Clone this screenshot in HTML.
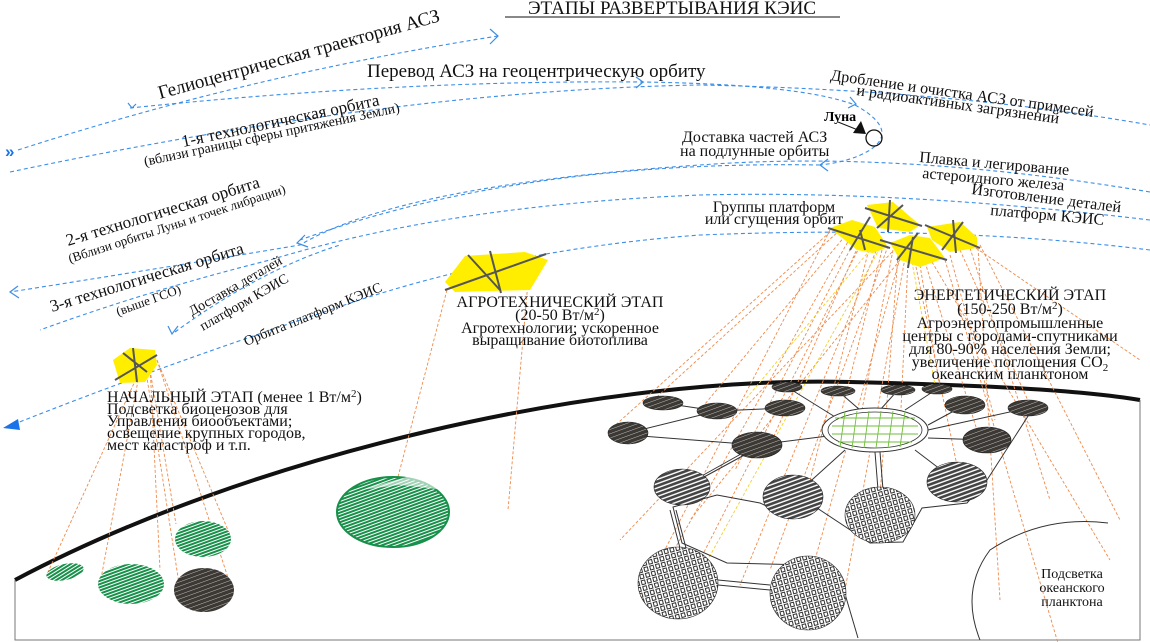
<!DOCTYPE html>
<html><head><meta charset="utf-8"><style>
html,body{margin:0;padding:0;background:#fff;}
svg{display:block;font-family:"Liberation Serif","DejaVu Serif",serif;}
</style></head><body>
<svg width="1150" height="642" viewBox="0 0 1150 642" xmlns="http://www.w3.org/2000/svg">
<defs>
<pattern id="dk" width="4" height="4" patternUnits="userSpaceOnUse" patternTransform="rotate(70)">
<rect width="4" height="4" fill="#3c3833"/><line x1="0" y1="0" x2="0" y2="4" stroke="#bdbdbd" stroke-width="1"/></pattern>
<pattern id="lt" width="4" height="4" patternUnits="userSpaceOnUse" patternTransform="rotate(70)">
<rect width="4" height="4" fill="#fff"/><rect x="0" y="0" width="2.6" height="4" fill="#444"/></pattern>
<pattern id="sq" width="6" height="6" patternUnits="userSpaceOnUse" patternTransform="rotate(-15)">
<rect width="6" height="6" fill="#fff"/><rect x="1" y="1" width="3.5" height="4" fill="none" stroke="#333" stroke-width="1"/></pattern>
<pattern id="gr" width="3" height="3" patternUnits="userSpaceOnUse" patternTransform="rotate(-20)">
<rect width="3" height="3" fill="#fff"/><rect width="3" height="2" fill="#17904a"/></pattern>
</defs>

<!-- title -->
<text x="672" y="14" font-size="19" text-anchor="middle" fill="#111">ЭТАПЫ  РАЗВЕРТЫВАНИЯ  КЭИС</text>
<line x1="505" y1="17" x2="840" y2="17" stroke="#111" stroke-width="1"/>

<!-- orbits -->
<g fill="none" stroke="#3b8ee8" stroke-width="1.1" stroke-dasharray="4,3">
<path d="M18,150 Q250,75 498,36"/>
<path d="M130,108 Q400,80 640,82 Q800,84 855,105 Q900,130 870,150 Q850,162 820,165"/>
<path d="M820,165 Q520,160 300,240"/>
<path d="M10,172 Q400,90 700,85 Q950,90 1150,125"/>
<path d="M1150,192 Q900,150 700,165 Q400,185 300,245 Q150,270 10,292"/>
<path d="M1150,220 Q900,190 700,195 Q450,205 270,260 Q150,290 40,330"/>
<path d="M1150,250 Q950,225 700,235 Q500,250 330,310 Q150,370 12,425"/>
<path d="M175,332 Q260,270 340,245"/>
</g>
<g fill="none" stroke="#3b8ee8" stroke-width="1.2">
<path d="M490,29 L498,36 L490,44"/>
<path d="M636,77 L643,82 L636,88"/>
<path d="M850,97 L856,104 L848,108"/>
<path d="M828,159 L820,165 L828,171"/>
<path d="M305,235 L297,243 L308,247"/>
<path d="M18,286 L10,292 L19,298"/>
<path d="M168,326 L172,334 L178,326"/>
<path d="M128,103 L132,108 L136,104"/>
</g>
<polygon points="3,428 18,419 20,430" fill="#1a73e8"/>
<text x="5" y="157" font-size="17" font-weight="bold" fill="#1a73e8" font-family="Liberation Sans,sans-serif">»</text>

<!-- Moon -->
<circle cx="874" cy="138" r="8" fill="none" stroke="#111" stroke-width="1.3"/>
<polygon points="853,133 861,121 866,134" fill="#111"/>
<text x="824" y="121" font-size="14" font-weight="bold">Луна</text>
<line x1="838" y1="122" x2="858" y2="130" stroke="#111"/>

<!-- texts orbits -->
<g fill="#111">
<text font-size="19" transform="translate(160,99) rotate(-15.5)">Гелиоцентрическая траектория АСЗ</text>
<text x="367" y="77" font-size="19">Перевод АСЗ на геоцентрическую орбиту</text>
<text font-size="17" transform="translate(183,147) rotate(-12)">1-я технологическая орбита</text>
<text font-size="14" transform="translate(145,166) rotate(-12)">(вблизи границы сферы притяжения Земли)</text>
<text font-size="17" transform="translate(68,246) rotate(-17)">2-я технологическая орбита</text>
<text font-size="13" transform="translate(70,263) rotate(-18)">(Вблизи орбиты Луны и точек либрации)</text>
<text font-size="17" transform="translate(52,312) rotate(-17)">3-я технологическая орбита</text>
<text font-size="13" transform="translate(118,316) rotate(-20)">(выше ГСО)</text>
<text font-size="14" transform="translate(192,316) rotate(-30)">Доставка деталей</text>
<text font-size="14" transform="translate(203,331) rotate(-30)">платформ КЭИС</text>
<text font-size="14" transform="translate(246,346) rotate(-22)">Орбита платформ КЭИС</text>
<text font-size="16" transform="translate(830,80) rotate(8)">Дробление и очистка АСЗ от примесей</text>
<text font-size="16" transform="translate(856,95) rotate(8)">и радиоактивных загрязнений</text>
<text x="682" y="142" font-size="16">Доставка частей АСЗ</text>
<text x="680" y="156" font-size="16">на подлунные орбиты</text>
<text font-size="16" transform="translate(919,162) rotate(5)">Плавка и легирование</text>
<text font-size="16" transform="translate(922,178) rotate(5)">астероидного железа</text>
<text font-size="16" transform="translate(971,194) rotate(7)">Изготовление деталей</text>
<text font-size="16" transform="translate(990,215) rotate(5)">платформ КЭИС</text>
<text x="774" y="212" font-size="16" text-anchor="middle">Группы платформ</text>
<text x="774" y="224" font-size="16" text-anchor="middle">или сгущения орбит</text>
</g>

<!-- Earth -->
<path d="M15,580 C250,455 600,375 850,382 C980,385 1080,390 1140,400" fill="none" stroke="#111" stroke-width="4"/>
<path d="M15,580 L15,640 L1140,640 L1140,400" fill="none" stroke="#777" stroke-width="1"/>

<!-- beams -->
<g stroke="#ef8a4a" stroke-width="0.9" stroke-dasharray="3,2" fill="none">
<path d="M140,370 L48,572 M140,370 L100,584 M150,365 L160,570 M145,365 L180,590 M157,360 L230,535 M157,360 L232,590 M150,370 L176,524"/>
<path d="M447,290 L388,515 M528,282 L508,510"/>
<path d="M830,230 L640,598 M830,232 L610,430 M840,230 L648,405 M845,236 L700,410 M850,238 L660,575 M855,240 L735,470 M860,242 L770,445 M862,242 L700,560 M870,245 L805,500 M878,246 L740,585 M882,250 L842,410 M888,246 L770,570 M893,250 L860,420 M898,255 L880,495 M900,258 L807,588 M905,258 L845,590 M908,260 L900,430 M915,262 L960,480 M920,265 L940,388 M925,262 L980,440 M932,262 L1110,560 M945,260 L1060,650 M950,255 L995,420 M960,250 L1030,405 M970,248 L1050,500 M976,248 L1140,360 M980,245 L1120,520 M978,248 L1000,600 M900,260 L690,520 M892,252 L620,540"/>
</g>
<g stroke="#f5d020" stroke-width="0.9" stroke-dasharray="3,2"><path d="M870,250 L745,400 M912,262 L935,385 M880,248 L680,610"/></g>

<!-- platforms -->
<g fill="#ffee00">
<polygon points="113,360 130,348 155,350 157,365 145,382 120,383"/>
<polygon points="445,282 465,256 525,252 548,260 530,290 455,292"/>
<polygon points="830,228 852,220 875,227 888,247 873,253 857,250"/>
<polygon points="867,205 893,202 920,225 910,232 878,228"/>
<polygon points="890,243 910,235 930,238 945,258 920,267 900,260"/>
<polygon points="927,227 960,222 977,237 977,248 950,252 932,240"/>
</g>
<g stroke="#555" stroke-width="2" fill="none">
<path d="M115,380 L157,355 M123,353 L147,372 M133,348 L137,382"/>
<path d="M445,290 L546,254 M468,255 L500,290 M490,251 L501,293"/>
<path d="M828,228 L890,248 M850,250 L870,217 M860,230 L865,250"/>
<path d="M865,208 L922,226 M877,228 L903,205 M890,200 L888,232"/>
<path d="M880,240 L947,260 M897,260 L918,233 M913,237 L908,268"/>
<path d="M925,225 L980,248 M942,250 L963,222 M953,220 L956,253"/>
</g>

<!-- stage texts -->
<g fill="#111" font-size="16">
<text x="107" y="402">НАЧАЛЬНЫЙ ЭТАП (менее 1 Вт/м<tspan font-size="11" dy="-5">2</tspan><tspan dy="5">)</tspan></text>
<text x="107" y="414">Подсветка биоценозов для</text>
<text x="107" y="426">Управления биообъектами;</text>
<text x="107" y="438">освещение крупных городов,</text>
<text x="107" y="450">мест катастроф и т.п.</text>
<text x="560" y="307" text-anchor="middle">АГРОТЕХНИЧЕСКИЙ ЭТАП</text>
<text x="560" y="320" text-anchor="middle">(20-50 Вт/м<tspan font-size="11" dy="-5">2</tspan><tspan dy="5">)</tspan></text>
<text x="560" y="333" text-anchor="middle">Агротехнологии; ускоренное</text>
<text x="560" y="345" text-anchor="middle">выращивание биотоплива</text>
<text x="1010" y="300" text-anchor="middle">ЭНЕРГЕТИЧЕСКИЙ ЭТАП</text>
<text x="1010" y="314" text-anchor="middle">(150-250 Вт/м<tspan font-size="11" dy="-5">2</tspan><tspan dy="5">)</tspan></text>
<text x="1010" y="328" text-anchor="middle">Агроэнергопромышленные</text>
<text x="1010" y="341" text-anchor="middle">центры с городами-спутниками</text>
<text x="1010" y="354" text-anchor="middle">для 80-90% населения Земли;</text>
<text x="1010" y="367" text-anchor="middle">увеличение поглощения СО<tspan font-size="11" dy="4">2</tspan></text>
<text x="1010" y="379" text-anchor="middle">океанским планктоном</text>
</g>

<!-- left fields -->
<ellipse cx="65" cy="572" rx="19" ry="8" fill="url(#gr)" transform="rotate(-12 65 572)"/>
<ellipse cx="131" cy="584" rx="33" ry="20" fill="url(#gr)"/>
<ellipse cx="203" cy="539" rx="28" ry="18" fill="url(#gr)"/>
<ellipse cx="204" cy="590" rx="30" ry="22" fill="url(#dk)"/>
<ellipse cx="393" cy="512" rx="56" ry="35" fill="url(#gr)" stroke="#17904a" stroke-width="2"/>
<path d="M360,490 L410,476 L445,490 L400,485 Z" fill="#fff" opacity="0.6"/>

<!-- energy ground: connections -->
<g stroke="#333" stroke-width="1" fill="none">
<path d="M663,403 L717,411 L785,408 M628,433 L717,411 M628,435 L757,445 L875,430 M682,487 L757,445 M682,489 L759,447"/>
<path d="M787,387 L840,420 M838,391 L860,410 M898,390 L880,410 M937,389 L905,410 M965,405 L928,425 M1028,408 L928,430 M987,440 L928,438 M957,482 L915,450 M880,515 L875,452 M885,515 L880,452 M793,497 L845,450"/>
<path d="M717,495 L673,507 L682,543 L727,563 L808,565 L840,577 L858,638"/>
<path d="M717,495 L760,503 L793,518 L817,508 L870,543 L903,542 L922,508 L967,503 L987,480 L1030,413"/>
<path d="M680,548 L670,510 M686,548 L676,510 M718,585 L770,590 M718,580 L770,585"/>
<path d="M1108,523 Q1043,515 990,550 Q960,590 980,640"/>
</g>
<g stroke="#222" stroke-width="0.6">
<ellipse cx="663" cy="403" rx="20" ry="7" fill="url(#dk)"/>
<ellipse cx="717" cy="411" rx="20" ry="8" fill="url(#dk)"/>
<ellipse cx="785" cy="408" rx="20" ry="8" fill="url(#dk)"/>
<ellipse cx="787" cy="387" rx="15" ry="5" fill="url(#dk)"/>
<ellipse cx="838" cy="391" rx="17" ry="5" fill="url(#dk)"/>
<ellipse cx="898" cy="390" rx="17" ry="5" fill="url(#dk)"/>
<ellipse cx="937" cy="389" rx="15" ry="5" fill="url(#dk)"/>
<ellipse cx="965" cy="405" rx="20" ry="9" fill="url(#dk)"/>
<ellipse cx="1028" cy="408" rx="20" ry="8" fill="url(#dk)"/>
<ellipse cx="628" cy="433" rx="20" ry="11" fill="url(#dk)"/>
<ellipse cx="757" cy="445" rx="25" ry="13" fill="url(#dk)"/>
<ellipse cx="987" cy="440" rx="24" ry="13" fill="url(#dk)"/>
<ellipse cx="682" cy="487" rx="28" ry="18" fill="url(#lt)"/>
<ellipse cx="793" cy="497" rx="30" ry="22" fill="url(#lt)"/>
<ellipse cx="880" cy="515" rx="35" ry="28" fill="url(#sq)"/>
<ellipse cx="957" cy="482" rx="30" ry="20" fill="url(#lt)"/>
<ellipse cx="678" cy="583" rx="40" ry="36" fill="url(#sq)"/>
<ellipse cx="808" cy="593" rx="38" ry="37" fill="url(#sq)"/>
</g>
<ellipse cx="875" cy="430" rx="53" ry="22" fill="#fff" stroke="#333" stroke-width="1"/>
<ellipse cx="875" cy="430" rx="47" ry="18" fill="none" stroke="#333" stroke-width="0.8"/>
<g stroke="#6fbf3a" stroke-width="0.9" fill="none">
<path d="M835,418 L915,418 M832,426 L918,426 M832,434 L918,434 M838,442 L912,442"/>
<path d="M845,412 L840,447 M857,411 L852,448 M869,411 L864,448 M881,411 L876,448 M893,411 L888,448 M905,412 L900,447"/>
</g>
<text x="1072" y="578" font-size="14" text-anchor="middle" fill="#111">Подсветка</text>
<text x="1072" y="592" font-size="14" text-anchor="middle" fill="#111">океанского</text>
<text x="1072" y="606" font-size="14" text-anchor="middle" fill="#111">планктона</text>
</svg>
</body></html>
